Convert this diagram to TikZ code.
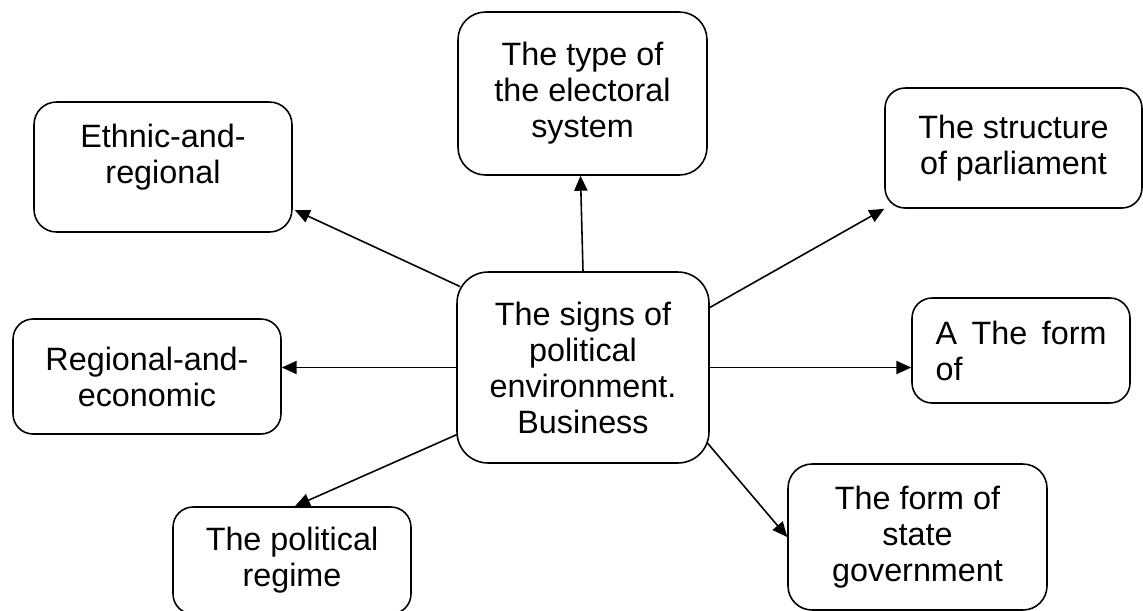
\documentclass[tikz,border=0pt]{standalone}
\usepackage{fontspec}
\setmainfont{Liberation Sans}
\usetikzlibrary{arrows.meta}

\begin{document}
\begin{tikzpicture}[x=0.02cm, y=-0.02cm,
    >={Triangle[length=8.5pt, width=7.5pt]},
    sign/.style={rectangle, draw, line width=0.9pt, rounded corners=0.4cm, inner sep=0pt, align=center, font=\fontsize{18.4}{20.5}\selectfont},
    core/.style={sign, rounded corners=0.62cm}]

    \useasboundingbox (0,0) rectangle (1143,610);
    \clip (0,0) rectangle (1143,610);

    \node (ctr) [core, minimum width=5.04cm, minimum height=3.82cm] at (583,367.5) {The signs of\\political\\environment.\\Business};

    \node (typ) [sign, rounded corners=0.55cm, minimum width=4.98cm, minimum height=3.26cm] at (582.5,93.5) {The type of\\the electoral\\system};
    \node (eth) [sign, rounded corners=0.45cm, minimum width=5.16cm, minimum height=2.6cm] at (163,167) {Ethnic-and-\\regional\\[-6pt]\mbox{}};
    \node (str) [sign, minimum width=5.14cm, minimum height=2.4cm] at (1013.5,148) {The structure\\of parliament};
    \node (reg) [sign, minimum width=5.36cm, minimum height=2.3cm] at (147,376.5) {Regional-and-\\economic};
    \node (frm) [sign, align=left, text width=3.42cm, minimum width=4.36cm, minimum height=2.1cm] at (1021,350.5) {A\hfill The\hfill form\\of};
    \node (pol) [sign, minimum width=4.76cm, minimum height=2.14cm] at (292,560.5) {The political\\regime};
    \node (gov) [sign, rounded corners=0.48cm, minimum width=5.18cm, minimum height=2.92cm] at (917.5,537) {The form of\\state\\government};

    \draw[->, line width=0.9pt] ([shift={(-123,-81)}]ctr.center) -- ([shift={(2,43)}]eth.east);
    \draw[->, line width=0.9pt] (ctr.north) -- ([shift={(-2,0)}]typ.south);
    \draw[->, line width=0.9pt] ([shift={(0,-60)}]ctr.east) -- (str.south west);
    \draw[->, line width=0.9pt] (ctr.west) -- (ctr.west -| reg.east);
    \draw[->, line width=0.9pt] (ctr.east) -- (ctr.east -| frm.west);
    \draw[->, line width=0.9pt] ([shift={(-126,67)}]ctr.center) -- ([shift={(3,0)}]pol.north);
    \draw[->, line width=0.9pt] ([shift={(124,75)}]ctr.center) -- (gov.west);

\end{tikzpicture}
\end{document}
